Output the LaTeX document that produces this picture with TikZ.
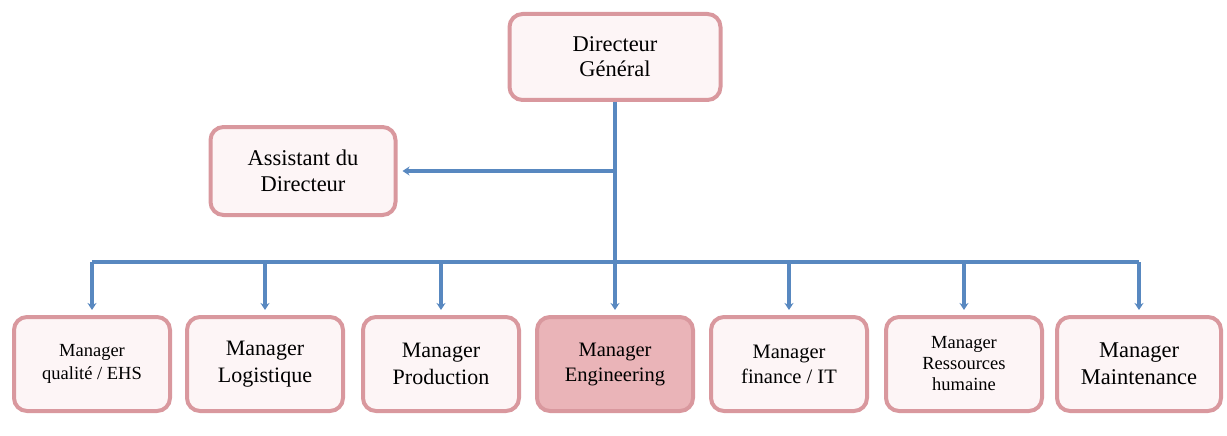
\documentclass[tikz,border=0pt]{standalone}
\usepackage{fontspec}
\setmainfont{Liberation Serif}
\usepackage{tikz}
\usetikzlibrary{positioning}
\usetikzlibrary{arrows.meta}

\definecolor{boxline}{RGB}{217,152,158}
\definecolor{boxfill}{RGB}{253,245,246}
\definecolor{engfill}{RGB}{234,180,184}
\definecolor{linkblue}{RGB}{88,136,192}

\tikzset{
orgbox/.style={rectangle,rounded corners=13pt,draw=boxline,line width=4pt,fill=boxfill,minimum width=156pt,minimum height=94pt,align=center,text=black},
link/.style={draw=linkblue,line width=3.5pt},
linkarrow/.style={link,-{Stealth[length=7pt,width=9pt]},shorten >=5pt}
}

\begin{document}
\begin{tikzpicture}[x=1pt,y=-1pt]
\useasboundingbox (0,0) rectangle (1227,436);

\node[orgbox,minimum width=211pt,minimum height=86pt,font=\fontsize{22.5}{25}\selectfont] (dg) at (615,57) {Directeur\\G\'en\'eral};
\node[orgbox,minimum width=185pt,minimum height=88pt,font=\fontsize{22.5}{26}\selectfont] (assist) at (303,171) {Assistant du\\Directeur};

\node[orgbox,font=\fontsize{18.5}{23}\selectfont] (qual) at (92,364) {Manager\\qualit\'e / EHS};
\node[orgbox,font=\fontsize{22}{27}\selectfont] (logi) at (265,364) {Manager\\Logistique};
\node[orgbox,font=\fontsize{22}{27}\selectfont] (prod) at (441,364) {Manager\\Production};
\node[orgbox,fill=engfill,font=\fontsize{20.5}{25}\selectfont] (engi) at (615,364) {Manager\\Engineering};
\node[orgbox,font=\fontsize{20.5}{25}\selectfont] (fina) at (789,364) {Manager\\finance / IT};
\node[orgbox,font=\fontsize{18.5}{21}\selectfont] (rh) at (964,364) {Manager\\Ressources\\humaine};
\node[orgbox,minimum width=164pt,font=\fontsize{22.5}{27}\selectfont] (maint) at (1139,364) {Manager\\Maintenance};

\coordinate (split) at (dg.south |- assist.east);
\coordinate (busL) at (qual.north |- 0,262);
\coordinate (busR) at (maint.north |- 0,262);

\draw[link] (dg.south) -- (dg.south |- busL);
\draw[linkarrow] (split) -- (assist.east);
\draw[link] (busL) -- (busR);
\foreach \b in {qual,logi,prod,engi,fina,rh,maint}
  \draw[linkarrow] (\b.north |- busL) -- (\b.north);

\end{tikzpicture}
\end{document}
